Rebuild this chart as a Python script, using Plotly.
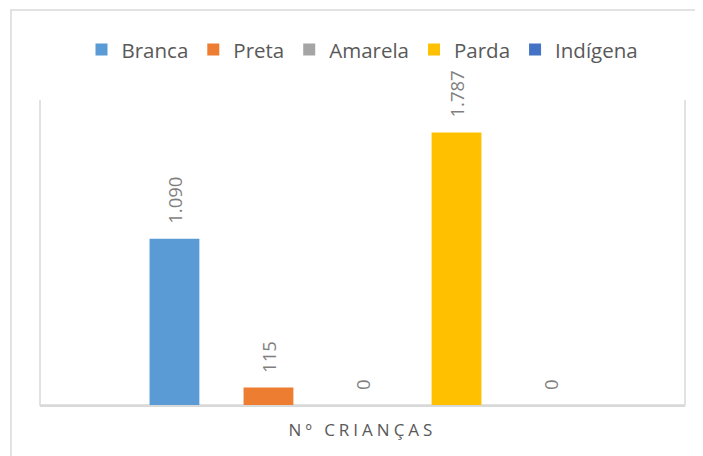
import plotly.graph_objects as go

series = ["Branca", "Preta", "Amarela", "Parda", "Indígena"]
values = [1090, 115, 0, 1787, 0]
colors = ["#5B9BD5", "#ED7D31", "#A5A5A5", "#FFC000", "#4472C4"]
category = "Nº CRIANÇAS"
y_max = 2000

def fmt(v):
    return f"{v:,}".replace(",", ".")

fig = go.Figure()
for i, (name, val, col) in enumerate(zip(series, values, colors)):
    fig.add_trace(go.Bar(
        x=[i], y=[val], name=name, marker=dict(color=col, line=dict(width=0)),
        width=0.53, hoverinfo="name+y",
    ))
    fig.add_annotation(
        x=i, y=val, xref="x", yref="y", text=fmt(val), showarrow=False,
        textangle=-90, yanchor="bottom", xanchor="center", yshift=13,
        font=dict(family="Open Sans", size=18.5, color="#7f7f7f"),
    )

# outer chart frame
fig.add_shape(type="rect", xref="paper", yref="paper",
              x0=-0.045, x1=1.05, y0=-0.2, y1=1.295,
              line=dict(color="#d9d9d9", width=1.5), layer="below")
# plot area side borders
fig.add_shape(type="path", xref="paper", yref="paper",
              path="M 0 1 L 0 0 L 1 0 L 1 1",
              line=dict(color="#d9d9d9", width=1.5), layer="below")

fig.update_layout(
    width=695, height=448,
    margin=dict(l=32, r=18, t=92, b=51),
    paper_bgcolor="white", plot_bgcolor="white",
    barmode="overlay",
    showlegend=True,
    legend=dict(orientation="h", x=0.5, xanchor="center", y=1.165, yanchor="middle",
                font=dict(family="Open Sans", size=20.5, color="#595959"),
                traceorder="normal", itemclick=False),
    xaxis=dict(range=[-1.43, 5.43], showticklabels=False, showgrid=False, zeroline=False,
               showline=True, linecolor="#d9d9d9", linewidth=1.5, ticks="",
               title=dict(text='<span style="letter-spacing:4px">' + category + '</span>',
                          font=dict(family="Open Sans", size=17, color="#595959"),
                          standoff=18)),
    yaxis=dict(range=[0, y_max], visible=False),
    font=dict(family="Open Sans"),
)

fig.write_html("out.html")
